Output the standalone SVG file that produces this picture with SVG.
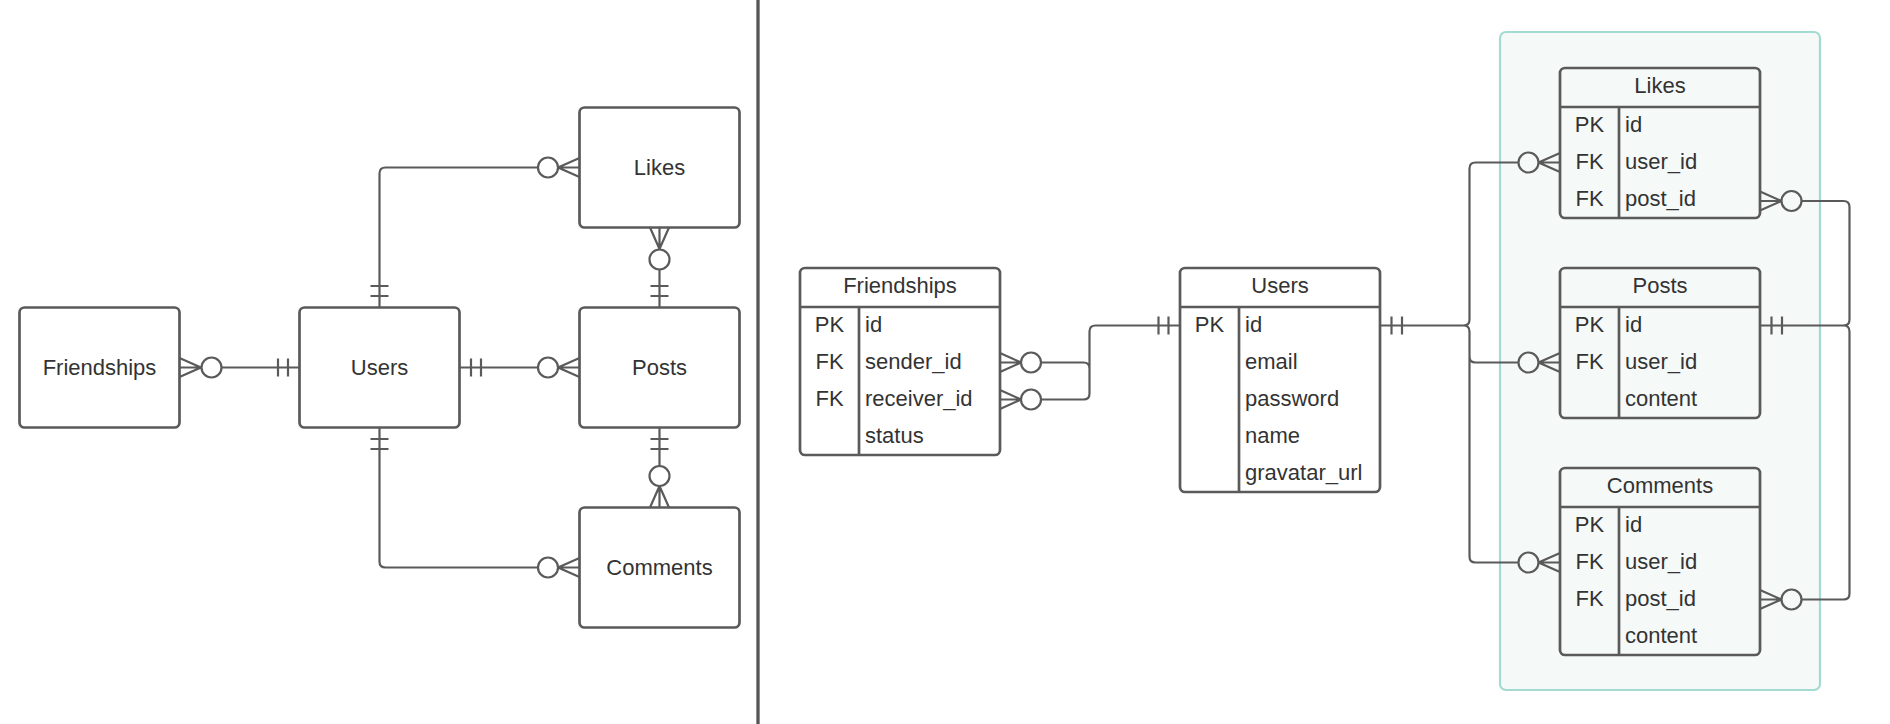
<svg xmlns="http://www.w3.org/2000/svg" width="1890" height="724" viewBox="0 0 1890 724">
<style>
text{font-family:"Liberation Sans",Arial,sans-serif;font-size:22px;fill:#333}
.c{text-anchor:middle}
.box{fill:#fff;stroke:#5a5a5a;stroke-width:2.7}
.tbl{fill:#fff;stroke:#5a5a5a;stroke-width:2.7}
.tbl2{fill:none;stroke:#5a5a5a;stroke-width:2.7}
.sep{stroke:#5a5a5a;stroke-width:2.7}
.ln{fill:none;stroke:#5a5a5a;stroke-width:2.2}
.ci{fill:#fff;stroke:#5a5a5a;stroke-width:2.2}
.cg{fill:#f5f9f8;stroke:#5a5a5a;stroke-width:2.2}
</style>
<rect width="1890" height="724" fill="#fff"/>
<line x1="758" y1="0" x2="758" y2="724" stroke="#555" stroke-width="3.3"/>
<rect id="container" x="1500" y="32" width="320" height="658" rx="6" fill="#f5f9f8" stroke="#a3dad1" stroke-width="2.2"/>

<g id="l-friendships"><rect class="box" x="19.5" y="307.5" width="160" height="120" rx="5"/><text class="c" x="99.5" y="374.5">Friendships</text></g>
<g id="l-users"><rect class="box" x="299.5" y="307.5" width="160" height="120" rx="5"/><text class="c" x="379.5" y="374.5">Users</text></g>
<g id="l-posts"><rect class="box" x="579.5" y="307.5" width="160" height="120" rx="5"/><text class="c" x="659.5" y="374.5">Posts</text></g>
<g id="l-likes"><rect class="box" x="579.5" y="107.5" width="160" height="120" rx="5"/><text class="c" x="659.5" y="174.5">Likes</text></g>
<g id="l-comments"><rect class="box" x="579.5" y="507.5" width="160" height="120" rx="5"/><text class="c" x="659.5" y="574.5">Comments</text></g>

<g id="r-friendships">
<rect class="tbl" x="800" y="268" width="200" height="187" rx="5"/>
<line class="sep" x1="800" y1="307" x2="1000" y2="307"/><line class="sep" x1="859" y1="307" x2="859" y2="455"/>
<text class="c" x="900" y="293">Friendships</text>
<text class="c" x="829.5" y="331.5">PK</text><text x="865" y="331.5">id</text>
<text class="c" x="829.5" y="368.5">FK</text><text x="865" y="368.5">sender_id</text>
<text class="c" x="829.5" y="405.5">FK</text><text x="865" y="405.5">receiver_id</text>
<text x="865" y="442.5">status</text>
</g>
<g id="r-users">
<rect class="tbl" x="1180" y="268" width="200" height="224" rx="5"/>
<line class="sep" x1="1180" y1="307" x2="1380" y2="307"/><line class="sep" x1="1239" y1="307" x2="1239" y2="492"/>
<text class="c" x="1280" y="293">Users</text>
<text class="c" x="1209.5" y="331.5">PK</text><text x="1245" y="331.5">id</text>
<text x="1245" y="368.5">email</text>
<text x="1245" y="405.5">password</text>
<text x="1245" y="442.5">name</text>
<text x="1245" y="479.5">gravatar_url</text>
</g>
<g id="r-likes">
<rect class="tbl2" x="1560" y="68" width="200" height="150" rx="5"/>
<line class="sep" x1="1560" y1="107" x2="1760" y2="107"/><line class="sep" x1="1619" y1="107" x2="1619" y2="218"/>
<text class="c" x="1660" y="93">Likes</text>
<text class="c" x="1589.5" y="131.5">PK</text><text x="1625" y="131.5">id</text>
<text class="c" x="1589.5" y="168.5">FK</text><text x="1625" y="168.5">user_id</text>
<text class="c" x="1589.5" y="205.5">FK</text><text x="1625" y="205.5">post_id</text>
</g>
<g id="r-posts">
<rect class="tbl2" x="1560" y="268" width="200" height="150" rx="5"/>
<line class="sep" x1="1560" y1="307" x2="1760" y2="307"/><line class="sep" x1="1619" y1="307" x2="1619" y2="418"/>
<text class="c" x="1660" y="293">Posts</text>
<text class="c" x="1589.5" y="331.5">PK</text><text x="1625" y="331.5">id</text>
<text class="c" x="1589.5" y="368.5">FK</text><text x="1625" y="368.5">user_id</text>
<text x="1625" y="405.5">content</text>
</g>
<g id="r-comments">
<rect class="tbl2" x="1560" y="468" width="200" height="187" rx="5"/>
<line class="sep" x1="1560" y1="507" x2="1760" y2="507"/><line class="sep" x1="1619" y1="507" x2="1619" y2="655"/>
<text class="c" x="1660" y="493">Comments</text>
<text class="c" x="1589.5" y="531.5">PK</text><text x="1625" y="531.5">id</text>
<text class="c" x="1589.5" y="568.5">FK</text><text x="1625" y="568.5">user_id</text>
<text class="c" x="1589.5" y="605.5">FK</text><text x="1625" y="605.5">post_id</text>
<text x="1625" y="642.5">content</text>
</g>

<g id="connectors">
<path class="ln" d="M179.5,367.5 H299.5 M179.5,358 L201,367.5 L179.5,377 M278,358.5 V376.5 M288,358.5 V376.5"/>
<circle class="ci" cx="211.5" cy="367.5" r="10"/>
<path class="ln" d="M459.5,367.5 H579.5 M579.5,358 L558,367.5 L579.5,377 M471,358.5 V376.5 M481,358.5 V376.5"/>
<circle class="ci" cx="548" cy="367.5" r="10"/>
<path class="ln" d="M379.5,307.5 V173.5 Q379.5,167.5 385.5,167.5 H579.5 M579.5,158 L558,167.5 L579.5,177 M370.5,296 H388.5 M370.5,286 H388.5"/>
<circle class="ci" cx="548" cy="167.5" r="10"/>
<path class="ln" d="M379.5,427.5 V561.5 Q379.5,567.5 385.5,567.5 H579.5 M579.5,558 L558,567.5 L579.5,577 M370.5,439 H388.5 M370.5,449 H388.5"/>
<circle class="ci" cx="548" cy="567.5" r="10"/>
<path class="ln" d="M659.5,307.5 V227.5 M650,227.5 L659.5,249 L669,227.5 M650.5,296 H668.5 M650.5,286 H668.5"/>
<circle class="ci" cx="659.5" cy="259.5" r="10"/>
<path class="ln" d="M659.5,427.5 V507.5 M650,507.5 L659.5,486 L669,507.5 M650.5,439 H668.5 M650.5,449 H668.5"/>
<circle class="ci" cx="659.5" cy="476" r="10"/>

<path class="ln" d="M1180,325.5 H1095.5 Q1089.5,325.5 1089.5,331.5 V393.5 Q1089.5,399.5 1083.5,399.5 H1000 M1000,362.5 H1083.5 Q1089.5,362.5 1089.5,368.5 M1168.5,316.5 V334.5 M1158.5,316.5 V334.5 M1000,353 L1021,362.5 L1000,372 M1000,390 L1021,399.5 L1000,409"/>
<circle class="ci" cx="1031" cy="362.5" r="10"/>
<circle class="ci" cx="1031" cy="399.5" r="10"/>
<path class="ln" d="M1380,325.5 H1463.5 Q1469.5,325.5 1469.5,319.5 V168.5 Q1469.5,162.5 1475.5,162.5 H1560 M1463.5,325.5 Q1469.5,325.5 1469.5,331.5 V556.5 Q1469.5,562.5 1475.5,562.5 H1560 M1469.5,356.5 Q1469.5,362.5 1475.5,362.5 H1560 M1391.5,316.5 V334.5 M1402,316.5 V334.5 M1560,153 L1538.5,162.5 L1560,172 M1560,353 L1538.5,362.5 L1560,372 M1560,553 L1538.5,562.5 L1560,572"/>
<circle class="cg" cx="1528.5" cy="162.5" r="10"/>
<circle class="cg" cx="1528.5" cy="362.5" r="10"/>
<circle class="cg" cx="1528.5" cy="562.5" r="10"/>
<path class="ln" d="M1760,325.5 H1843.5 Q1849.5,325.5 1849.5,319.5 V207 Q1849.5,201 1843.5,201 H1760 M1843.5,325.5 Q1849.5,325.5 1849.5,331.5 V593.5 Q1849.5,599.5 1843.5,599.5 H1760 M1771.5,316.5 V334.5 M1782,316.5 V334.5 M1760,191.5 L1781.5,201 L1760,210.5 M1760,590 L1781.5,599.5 L1760,609"/>
<circle class="cg" cx="1791.5" cy="201" r="10"/>
<circle class="cg" cx="1791.5" cy="599.5" r="10"/>
</g>
</svg>
